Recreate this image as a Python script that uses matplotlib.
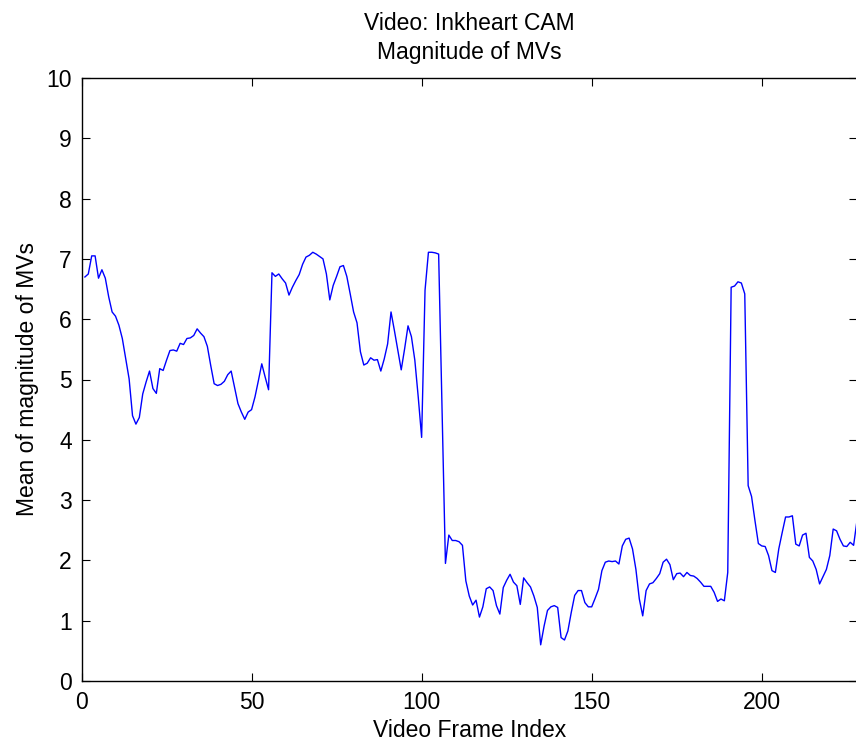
import numpy as np
import matplotlib.pyplot as plt

# mean magnitude of motion vectors for each frame (frames 1..228)
mv_mean = [
    6.70, 6.75, 7.05, 7.05, 6.68, 6.82, 6.68, 6.37, 6.12, 6.05,
    5.90, 5.68, 5.34, 5.01, 4.40, 4.26, 4.37, 4.76, 4.96, 5.14,
    4.85, 4.77, 5.18, 5.15, 5.32, 5.48, 5.49, 5.47, 5.60, 5.58,
    5.68, 5.69, 5.73, 5.84, 5.77, 5.71, 5.55, 5.23, 4.93, 4.90,
    4.92, 4.97, 5.08, 5.14, 4.87, 4.60, 4.46, 4.34, 4.46, 4.50,
    4.71, 4.98, 5.26, 5.04, 4.83, 6.77, 6.71, 6.75, 6.67, 6.60,
    6.40, 6.53, 6.64, 6.74, 6.91, 7.03, 7.06, 7.11, 7.08, 7.04,
    7.00, 6.75, 6.32, 6.56, 6.71, 6.87, 6.89, 6.71, 6.42, 6.12,
    5.94, 5.46, 5.24, 5.27, 5.36, 5.32, 5.33, 5.14, 5.34, 5.59,
    6.12, 5.81, 5.48, 5.16, 5.51, 5.89, 5.71, 5.32, 4.71, 4.04,
    6.48, 7.11, 7.11, 7.10, 7.08, 4.50, 1.95, 2.42, 2.33, 2.33,
    2.31, 2.25, 1.66, 1.41, 1.26, 1.34, 1.06, 1.23, 1.53, 1.56,
    1.50, 1.25, 1.11, 1.55, 1.67, 1.77, 1.64, 1.58, 1.27, 1.71,
    1.63, 1.56, 1.41, 1.22, 0.60, 0.91, 1.17, 1.23, 1.25, 1.22,
    0.72, 0.68, 0.83, 1.14, 1.42, 1.50, 1.50, 1.30, 1.23, 1.23,
    1.37, 1.52, 1.83, 1.97, 1.99, 1.98, 1.99, 1.94, 2.24, 2.35,
    2.37, 2.19, 1.85, 1.36, 1.08, 1.50, 1.61, 1.63, 1.70, 1.78,
    1.97, 2.02, 1.93, 1.68, 1.78, 1.79, 1.73, 1.80, 1.75, 1.74,
    1.70, 1.64, 1.57, 1.57, 1.57, 1.47, 1.32, 1.36, 1.33, 1.80,
    6.53, 6.55, 6.62, 6.60, 6.42, 3.24, 3.06, 2.66, 2.28, 2.24,
    2.23, 2.08, 1.83, 1.80, 2.19, 2.46, 2.72, 2.72, 2.74, 2.27,
    2.24, 2.42, 2.45, 2.05, 1.99, 1.85, 1.61, 1.73, 1.85, 2.08,
    2.52, 2.49, 2.35, 2.24, 2.23, 2.30, 2.25, 2.66,
]
frames = np.arange(1, len(mv_mean) + 1)

x_ticks = [0, 50, 100, 150, 200]
y_ticks = list(range(0, 11))

plt.rcParams['font.family'] = ['Liberation Sans', 'DejaVu Sans']
plt.rcParams['font.size'] = 16.5

fig = plt.figure(figsize=(8.56, 7.44), dpi=100)
ax = fig.add_axes([81.5 / 856, 63 / 744, 775.5 / 856, 603 / 744])

ax.plot(frames, mv_mean, color='#0000ff', linewidth=1.0)

ax.set_xlim(0, 228)
ax.set_ylim(0, 10)
ax.set_xticks(x_ticks)
ax.set_yticks(y_ticks)
ax.tick_params(direction='in', length=6, width=0.8, top=True, right=True,
               labelsize=16.5, pad=7)
for sp in ax.spines.values():
    sp.set_linewidth(1.0)

ax.set_title('Video: Inkheart CAM\nMagnitude of MVs', fontsize=16.5,
             pad=14, linespacing=1.3)
ax.set_xlabel('Video Frame Index', fontsize=16.5, labelpad=4)
ax.set_ylabel('Mean of magnitude of MVs', fontsize=16.5, labelpad=5)

fig.savefig('out.png', dpi=100)
